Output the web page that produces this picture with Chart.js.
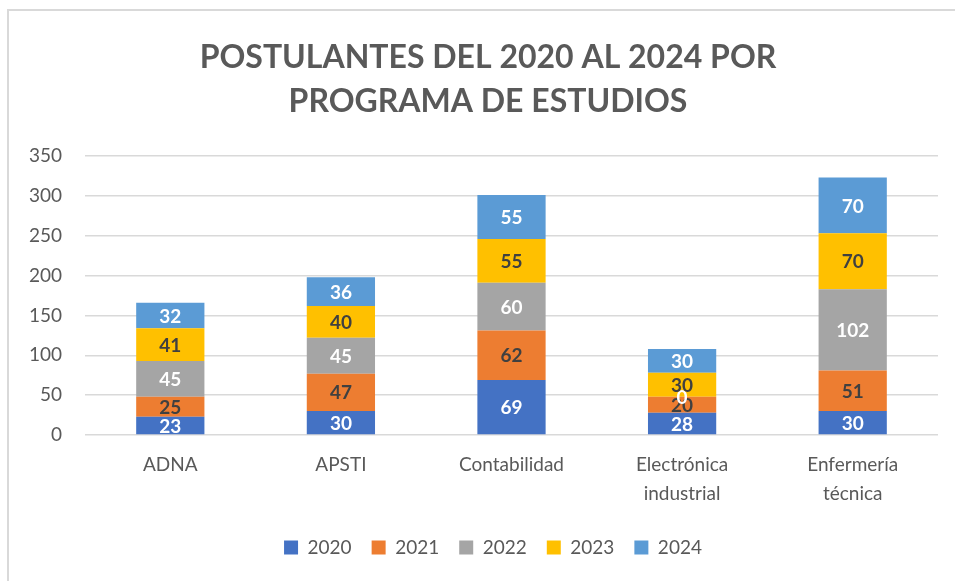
<!DOCTYPE html>
<html>
<head>
<meta charset="utf-8">
<script src="https://cdn.jsdelivr.net/npm/chart.js@4/dist/chart.umd.min.js"></script>
<style>
  html, body { margin: 0; padding: 0; background: #fff; }
  #wrap { position: relative; width: 955px; height: 581px; overflow: hidden; }
  #frame { position: absolute; left: 7px; top: 9px; width: 980px; height: 600px; border: 2px solid #d9d9d9; box-sizing: border-box; }
  #chart { position: absolute; left: 0; top: 0; }
</style>
</head>
<body>
<div id="wrap">
  <div id="frame"></div>
  <canvas id="chart" width="955" height="581"></canvas>
</div>
<script>
// ── datos ──
const programas = ['ADNA', 'APSTI', 'Contabilidad', ['Electrónica', 'industrial'], ['Enfermería', 'técnica']];
const anios = ['2020', '2021', '2022', '2023', '2024'];
const v2020 = [23, 30, 69, 28, 30];
const v2021 = [25, 47, 62, 20, 51];
const v2022 = [45, 45, 60, 0, 102];
const v2023 = [41, 40, 55, 30, 70];
const v2024 = [32, 36, 55, 30, 70];
const yTicks = [0, 50, 100, 150, 200, 250, 300, 350];

const colores = ['#4472C4', '#ED7D31', '#A5A5A5', '#FFC000', '#5B9BD5'];
const colorEtiqueta = ['#ffffff', '#404040', '#ffffff', '#404040', '#ffffff'];
const FONT = 'Lato, Calibri, Carlito, sans-serif';

// ── etiquetas dentro de las barras ──
const etiquetas = {
    id: 'etiquetas',
    afterDatasetsDraw(chart) {
        const ctx = chart.ctx;
        ctx.save();
        ctx.font = 'bold 19px ' + FONT;
        ctx.textAlign = 'center';
        ctx.textBaseline = 'middle';
        chart.data.datasets.forEach((ds, i) => {
            const meta = chart.getDatasetMeta(i);
            meta.data.forEach((bar, j) => {
                const p = bar.getProps(['x', 'y', 'base'], true);
                ctx.fillStyle = colorEtiqueta[i];
                ctx.fillText(String(ds.data[j]), p.x, (p.y + p.base) / 2 + 1);
            });
        });
        ctx.restore();
    }
};

// título y leyenda centrados en el marco, no en el lienzo
const centrado = {
    id: 'centrado',
    afterLayout(chart) {
        if (chart.titleBlock) chart.titleBlock.left = 38;
        if (chart.legend) chart.legend.left = 48;
    }
};

const series = [v2020, v2021, v2022, v2023, v2024];

new Chart(document.getElementById('chart'), {
    type: 'bar',
    data: {
        labels: programas,
        datasets: series.map((d, i) => ({
            label: anios[i],
            data: d,
            backgroundColor: colores[i],
            borderWidth: 0,
            categoryPercentage: 1,
            barPercentage: 0.4
        }))
    },
    options: {
        responsive: false,
        animation: false,
        devicePixelRatio: 1,
        layout: { padding: { left: 0, right: 17, top: 36, bottom: 14 } },
        plugins: {
            title: {
                display: true,
                text: ['POSTULANTES DEL 2020 AL 2024 POR', 'PROGRAMA DE ESTUDIOS'],
                color: '#595959',
                font: { family: FONT, size: 32, weight: 'bold', lineHeight: 1.36 },
                padding: { top: 0, bottom: 33 }
            },
            legend: {
                position: 'bottom',
                labels: {
                    color: '#595959',
                    font: { family: FONT, size: 19 },
                    boxWidth: 14,
                    boxHeight: 14,
                    padding: 20
                }
            },
            tooltip: { enabled: false }
        },
        scales: {
            x: {
                stacked: true,
                grid: { display: false },
                border: { display: false },
                ticks: {
                    color: '#595959',
                    font: { family: FONT, size: 19, lineHeight: 1.5 },
                    padding: 8,
                    maxRotation: 0,
                    autoSkip: false
                },
                afterFit: s => { s.height = 83; }
            },
            y: {
                stacked: true,
                min: 0,
                max: 350,
                afterBuildTicks: s => { s.ticks = yTicks.map(v => ({ value: v })); },
                grid: { color: '#d9d9d9', lineWidth: 1.5, drawTicks: false },
                border: { display: false },
                ticks: {
                    color: '#595959',
                    font: { family: FONT, size: 19 },
                    padding: 23
                },
                afterFit: s => { s.width = 85; }
            }
        }
    },
    plugins: [etiquetas, centrado]
});
</script>
</body>
</html>
